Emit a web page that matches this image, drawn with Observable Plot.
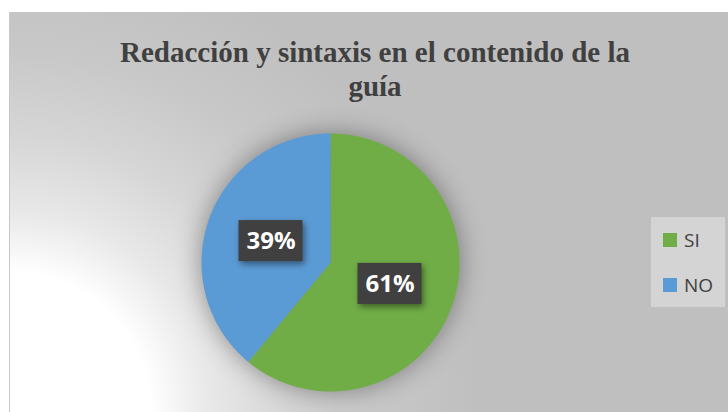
<!DOCTYPE html>
<html>
<head>
<meta charset="utf-8">
<script src="https://cdn.jsdelivr.net/npm/d3@7"></script>
<script src="https://cdn.jsdelivr.net/npm/@observablehq/plot@0.6"></script>
<style>
  html, body { margin: 0; padding: 0; background: #ffffff; width: 728px; height: 412px; overflow: hidden; }
  #frame {
    position: absolute; left: 9px; top: 12px; width: 719px; height: 400px; box-sizing: border-box;
    border-left: 1px solid #c8c8c8;
    background: radial-gradient(circle at 0% 100%, #ffffff 0px, #ffffff 140px, #e8e8e8 200px, #d6d6d6 275px, #c8c8c8 360px, #bfbfbf 470px);
  }
  #title {
    position: absolute; left: 0; top: 35px; width: 750px; text-align: center;
    font-family: "Liberation Serif", "Times New Roman", serif; font-weight: bold; font-size: 29px;
    line-height: 34px; color: #404040;
  }
  #chart { position: absolute; left: 0; top: 0; }
  #chart svg g[aria-label="line"] { filter: drop-shadow(0px 0px 13px rgba(0,0,0,0.38)); }
  #chart svg g[aria-label="rect"] { filter: drop-shadow(2px 3px 3px rgba(0,0,0,0.45)); }
  #legend {
    position: absolute; left: 651px; top: 217px; width: 74px; height: 90px; background: #d4d4d4;
  }
  .item { position: absolute; left: 12px; height: 14px; }
  .sw { position: absolute; left: 0; top: 0; width: 14px; height: 14px; }
  .lbl { position: absolute; left: 21px; top: -7px; font-family: "Open Sans", sans-serif; font-size: 19px; line-height: 28px; color: #404040; white-space: nowrap; }
</style>
</head>
<body>
<div id="frame"></div>
<div id="chart"></div>
<div id="title">Redacción y sintaxis en el contenido de la<br>guía</div>
<div id="legend"></div>
<script>
const categories = ["SI", "NO"];
const values = [61, 39];
const labels = ["61%", "39%"];
const colors = ["#70ad47", "#5b9bd5"];

// Pie geometry from data (angles clockwise from 12 o'clock)
const arcs = d3.pie().sort(null).value(d => d)(values);
const slicePoints = [];
arcs.forEach((a, i) => {
  slicePoints.push({cat: categories[i], x: 0, y: 0});
  const n = Math.max(2, Math.ceil((a.endAngle - a.startAngle) / (Math.PI / 360)));
  for (let k = 0; k <= n; k++) {
    const t = a.startAngle + (a.endAngle - a.startAngle) * k / n;
    slicePoints.push({cat: categories[i], x: Math.sin(t), y: Math.cos(t)});
  }
});

const labelR = 0.49;
const labelData = arcs.map((a, i) => {
  const m = (a.startAngle + a.endAngle) / 2;
  return {cat: categories[i], label: labels[i], x: labelR * Math.sin(m), y: labelR * Math.cos(m)};
});

const R = 129; // pie radius in px
const cx = 330, cy = 262;
const boxW = 64 / R, boxH = 41 / R;

const chart = Plot.plot({
  width: 728,
  height: 412,
  margin: 0,
  x: {domain: [-1, 1], range: [cx - R, cx + R], axis: null},
  y: {domain: [-1, 1], range: [cy + R, cy - R], axis: null},
  color: {domain: categories, range: colors},
  style: {background: "transparent", overflow: "visible"},
  marks: [
    Plot.line(slicePoints, {x: "x", y: "y", z: "cat", fill: "cat", stroke: "none", curve: "linear-closed"}),
    Plot.rect(labelData, {
      x1: d => d.x - boxW / 2, x2: d => d.x + boxW / 2,
      y1: d => d.y - boxH / 2, y2: d => d.y + boxH / 2,
      fill: "#404040"
    }),
    Plot.text(labelData, {
      x: "x", y: "y", text: "label", fill: "#ffffff",
      fontSize: 24, fontWeight: "bold", fontFamily: "Open Sans, sans-serif"
    })
  ]
});
document.getElementById("chart").appendChild(chart);

// Legend
const legend = document.getElementById("legend");
const legendTops = [16, 61];
categories.forEach((c, i) => {
  const it = document.createElement("div");
  it.className = "item";
  it.style.top = legendTops[i] + "px";
  const sw = document.createElement("div");
  sw.className = "sw";
  sw.style.background = colors[i];
  const lb = document.createElement("div");
  lb.className = "lbl";
  lb.textContent = c;
  it.appendChild(sw); it.appendChild(lb);
  legend.appendChild(it);
});
</script>
</body>
</html>
